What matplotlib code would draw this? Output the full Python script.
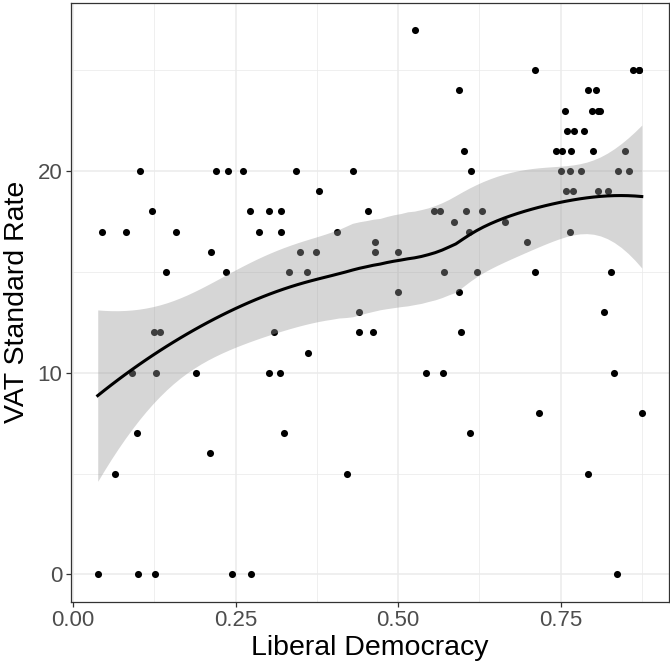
import numpy as np
import matplotlib
matplotlib.use("Agg")
import matplotlib.pyplot as plt
from matplotlib.ticker import MultipleLocator

plt.rcParams["font.family"] = ["Liberation Sans", "DejaVu Sans"]

# liberal democracy index vs VAT standard rate
lib_dem = [
    0.038, 0.045, 0.064, 0.082, 0.090, 0.099, 0.100, 0.103, 0.121, 0.125,
    0.126, 0.127, 0.134, 0.143, 0.158, 0.189, 0.211, 0.213, 0.220, 0.235,
    0.239, 0.245, 0.261, 0.273, 0.274, 0.286, 0.302, 0.302, 0.309, 0.318,
    0.320, 0.320, 0.325, 0.332, 0.343, 0.349, 0.360, 0.362, 0.374, 0.379,
    0.406, 0.421, 0.430, 0.440, 0.440, 0.454, 0.462, 0.465, 0.465, 0.500,
    0.500, 0.526, 0.543, 0.555, 0.565, 0.569, 0.570, 0.586, 0.594, 0.594,
    0.597, 0.602, 0.604, 0.609, 0.611, 0.613, 0.622, 0.629, 0.664, 0.699,
    0.711, 0.711, 0.717, 0.743, 0.751, 0.752, 0.757, 0.758, 0.760, 0.764,
    0.765, 0.766, 0.769, 0.770, 0.782, 0.786, 0.792, 0.793, 0.799, 0.800,
    0.804, 0.807, 0.807, 0.811, 0.817, 0.823, 0.827, 0.832, 0.837, 0.838,
    0.849, 0.855, 0.861, 0.871, 0.871, 0.875,
]
# one overplotted point at (0.871, 25) - needed for the smoother to line up
vat_rate = [
    0, 17, 5, 17, 10, 7, 0, 20, 18, 12,
    0, 10, 12, 15, 17, 10, 6, 16, 20, 15,
    20, 0, 20, 18, 0, 17, 18, 10, 12, 10,
    18, 17, 7, 15, 20, 16, 15, 11, 16, 19,
    17, 5, 20, 13, 12, 18, 12, 16.5, 16, 16,
    14, 27, 10, 18, 18, 10, 15, 17.5, 24, 14,
    12, 21, 18, 17, 7, 20, 15, 18, 17.5, 16.5,
    25, 15, 8, 21, 20, 21, 23, 19, 22, 20,
    17, 21, 19, 22, 20, 22, 5, 24, 23, 21,
    24, 23, 19, 23, 13, 19, 15, 10, 0, 20,
    21, 20, 25, 25, 25, 8,
]

x = np.array(lib_dem)
y = np.array(vat_rate)


def loess_rows(x0, xs, span=0.75):
    # hat-matrix rows of a local quadratic fit (tricube weights)
    n = len(xs)
    q = int(np.floor(n * span))
    rows = []
    for v in np.atleast_1d(x0):
        d = np.abs(xs - v)
        dmax = np.sort(d)[q - 1]
        w = np.clip(1 - (d / dmax) ** 3, 0, None) ** 3
        X = np.column_stack([np.ones(n), xs - v, (xs - v) ** 2])
        XtW = X.T * w
        rows.append(np.linalg.solve(XtW @ X, XtW)[0])
    return np.array(rows)


L = loess_rows(x, x)
resid = y - L @ y
IL = np.eye(len(x)) - L
A = IL.T @ IL
delta1 = np.trace(A)
delta2 = np.trace(A @ A)
sigma = np.sqrt(np.sum(resid ** 2) / delta1)
df = delta1 ** 2 / delta2
z = 1.959964
tq = z + (z ** 3 + z) / (4 * df) + (5 * z ** 5 + 16 * z ** 3 + 3 * z) / (96 * df ** 2)

xg = np.linspace(x.min(), x.max(), 80)
Lg = loess_rows(xg, x)
fit = Lg @ y
se = sigma * np.sqrt(np.sum(Lg ** 2, axis=1))

fig = plt.figure(figsize=(6.7, 6.66), dpi=100)
ax = fig.add_axes([70.5 / 670, 64.3 / 666, 598.5 / 670, 599 / 666])

ax.scatter(x, y, s=26, color="black", linewidths=0, zorder=2)
ax.fill_between(xg, fit - tq * se, fit + tq * se, color="#999999", alpha=0.4,
                linewidth=0, zorder=3)
ax.plot(xg, fit, color="black", linewidth=2.2, zorder=4)

ax.set_xlim(-0.0039, 0.9169)
ax.set_ylim(-1.35, 28.35)
ax.xaxis.set_minor_locator(MultipleLocator(0.125))
ax.yaxis.set_minor_locator(MultipleLocator(5))
ax.set_xticks([0, 0.25, 0.5, 0.75])
ax.set_xticklabels(["0.00", "0.25", "0.50", "0.75"])
ax.set_yticks([0, 10, 20])

ax.grid(which="major", color="#EBEBEB", linewidth=1.1, zorder=0)
ax.grid(which="minor", color="#EBEBEB", linewidth=0.55, zorder=0)
ax.set_axisbelow(True)
for sp in ax.spines.values():
    sp.set_color("#333333")
    sp.set_linewidth(0.9)

ax.tick_params(which="major", length=3.5, width=0.9, color="#333333",
               labelcolor="#4D4D4D", labelsize=16, pad=2.5)
ax.tick_params(which="minor", length=0)

ax.set_xlabel("Liberal Democracy", fontsize=20.5, color="black", labelpad=3)
ax.set_ylabel("VAT Standard Rate", fontsize=20.5, color="black", labelpad=5)

fig.savefig("out.png", dpi=100)
